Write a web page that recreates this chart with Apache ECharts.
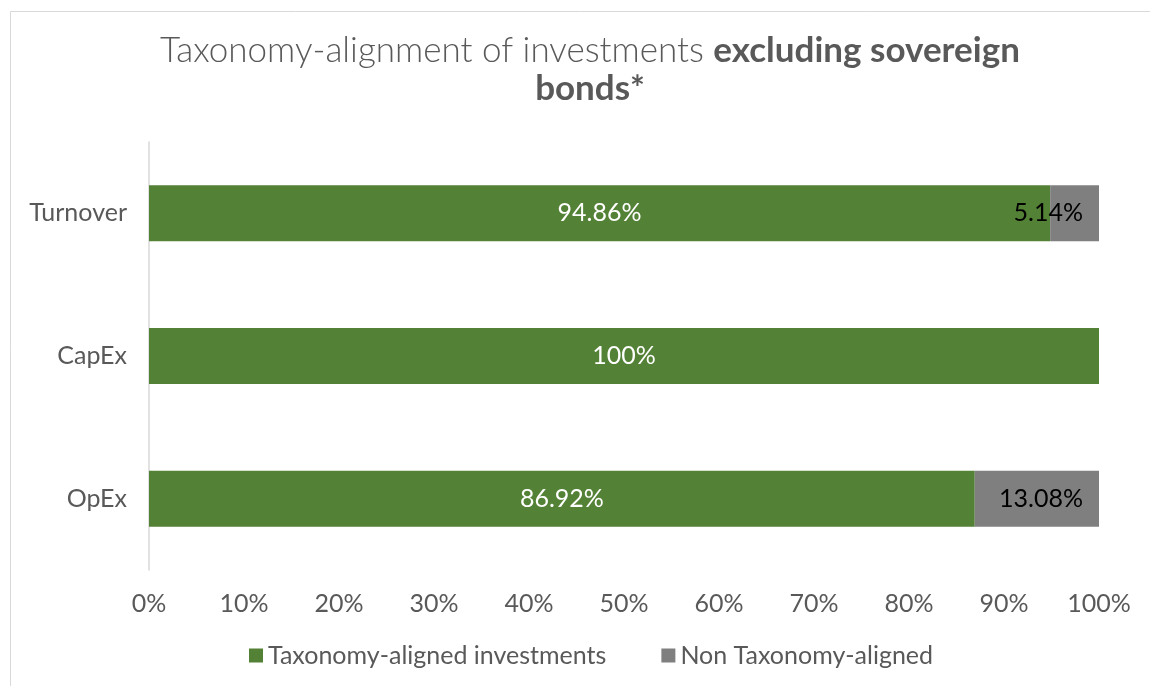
<!DOCTYPE html>
<html>
<head>
<meta charset="utf-8">
<script src="https://cdn.jsdelivr.net/npm/echarts@6/dist/echarts.min.js"></script>
<style>
html,body{margin:0;padding:0;background:#fff;}
#c{width:1150px;height:686px;}
</style>
</head>
<body>
<div id="c"></div>
<script>
const categories = ['Turnover', 'CapEx', 'OpEx'];
const alignedValues = [94.86, 100, 86.92];
const nonAlignedValues = [5.14, 0, 13.08];
const seriesNames = ['Taxonomy-aligned investments', 'Non Taxonomy-aligned'];
const xTicks = [0, 10, 20, 30, 40, 50, 60, 70, 80, 90, 100];

const FONT = 'Lato, "Open Sans", sans-serif';
const LBL = 25;
const chart = echarts.init(document.getElementById('c'));
chart.setOption({
  animation: false,
  backgroundColor: '#fff',
  graphic: [{
    type: 'rect',
    shape: {x: 10.5, y: 11.5, width: 1200, height: 800},
    style: {fill: 'none', stroke: '#d9d9d9', lineWidth: 1},
    silent: true
  }],
  title: {
    text: 'Taxonomy-alignment of investments {b|excluding sovereign}\n{b|bonds*}',
    left: 585,
    top: 27,
    textAlign: 'center',
    textStyle: {
      fontFamily: FONT,
      fontSize: 35,
      fontWeight: 300,
      color: '#595959',
      lineHeight: 38,
      rich: {
        b: {fontFamily: FONT, fontSize: 35, fontWeight: 'bold', color: '#595959', lineHeight: 38}
      }
    }
  },
  legend: {
    data: seriesNames,
    left: 244,
    top: 638,
    icon: 'rect',
    itemWidth: 14,
    itemHeight: 14,
    itemGap: 55,
    textStyle: {fontFamily: FONT, fontSize: LBL, color: '#595959'}
  },
  grid: {left: 149, right: 51, top: 142, bottom: 116, containLabel: false},
  xAxis: {
    type: 'value',
    min: 0,
    max: 100,
    interval: 10,
    axisLine: {show: false},
    axisTick: {show: false},
    splitLine: {show: false},
    axisLabel: {
      margin: 21,
      fontFamily: FONT,
      fontSize: LBL,
      color: '#595959',
      formatter: v => xTicks.includes(v) ? v + '%' : ''
    }
  },
  yAxis: {
    type: 'category',
    data: categories,
    inverse: true,
    axisLine: {show: true, lineStyle: {color: '#d9d9d9', width: 1.5}},
    axisTick: {show: false},
    axisLabel: {margin: 22, fontFamily: FONT, fontSize: LBL, color: '#595959'}
  },
  series: [
    {
      name: seriesNames[0],
      type: 'bar',
      stack: 'total',
      barWidth: 56,
      data: alignedValues,
      itemStyle: {color: '#538135'},
      label: {
        show: true,
        position: 'inside',
        fontFamily: FONT,
        fontSize: LBL,
        color: '#ffffff',
        formatter: p => p.value ? p.value + '%' : ''
      }
    },
    {
      name: seriesNames[1],
      type: 'bar',
      stack: 'total',
      barWidth: 56,
      data: nonAlignedValues,
      itemStyle: {color: '#7f7f7f'},
      label: {
        show: true,
        position: 'insideRight',
        distance: 16,
        fontFamily: FONT,
        fontSize: LBL,
        color: '#000000',
        formatter: p => p.value ? p.value + '%' : ''
      }
    }
  ]
});
</script>
</body>
</html>
